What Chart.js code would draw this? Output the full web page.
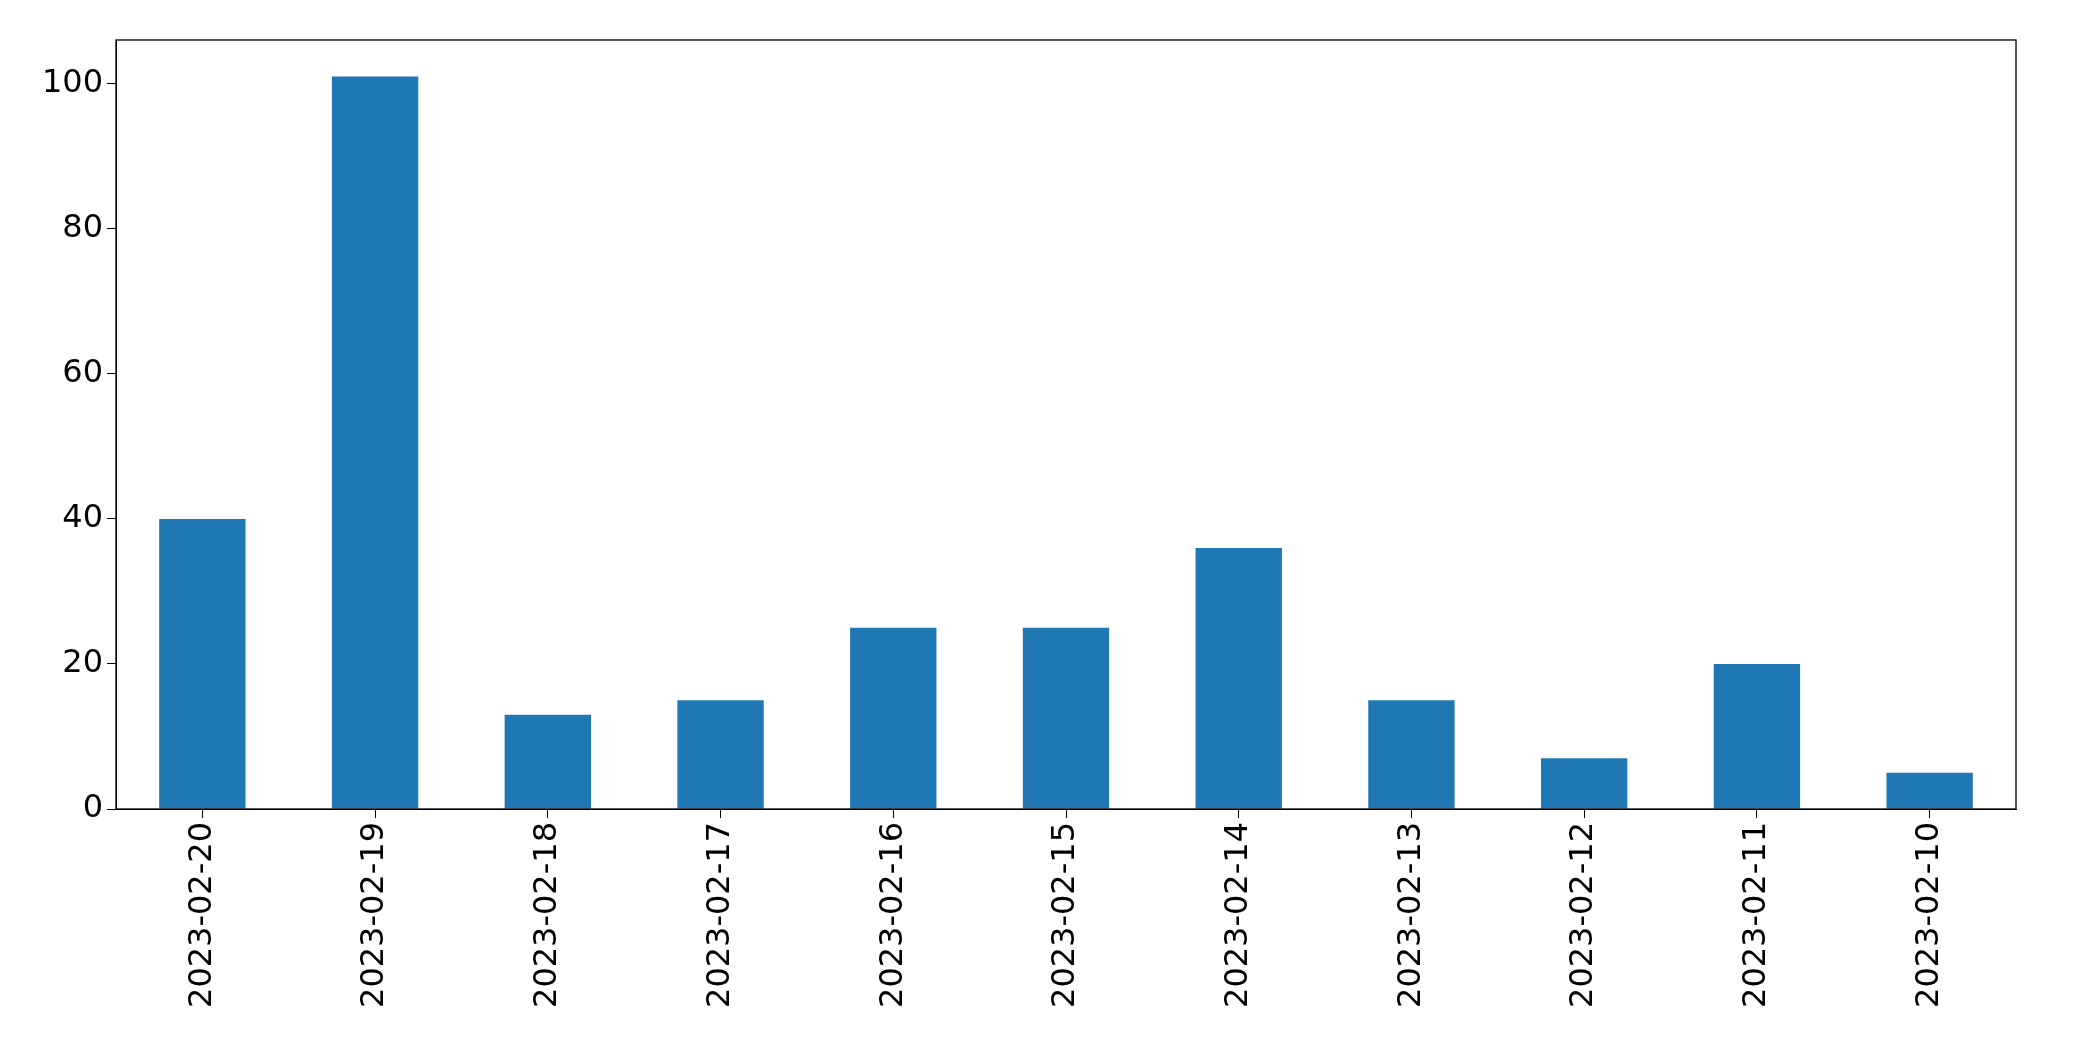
<!DOCTYPE html>
<html><head><meta charset="utf-8">
<script src="https://cdn.jsdelivr.net/npm/chart.js@4"></script>
<style>html,body{margin:0;padding:0;background:#fff}#w{width:2093px;height:1061px}</style>
</head><body><div id="w"><canvas id="c"></canvas></div>
<script>
const categories=["2023-02-20","2023-02-19","2023-02-18","2023-02-17","2023-02-16","2023-02-15","2023-02-14","2023-02-13","2023-02-12","2023-02-11","2023-02-10"];
const values=[40,101,13,15,25,25,36,15,7,20,5];
const yTicks=[0,20,40,60,80,100];
const frame={id:'frame',afterDraw(c){const a=c.chartArea,x=c.ctx;x.save();x.strokeStyle='#000';x.lineWidth=1.3;x.strokeRect(a.left,a.top,a.right-a.left,a.bottom-a.top);x.restore();}};
new Chart(document.getElementById('c'),{type:'bar',
data:{labels:categories,datasets:[{data:values,backgroundColor:'#1f77b4',categoryPercentage:1,barPercentage:0.5}]},
options:{responsive:true,maintainAspectRatio:false,animation:false,
layout:{padding:{top:40,right:77,left:0,bottom:0}},
plugins:{legend:{display:false},tooltip:{enabled:false}},
scales:{
x:{afterFit(s){s.height=252;},grid:{offset:false,drawOnChartArea:false,color:'#000',tickLength:9},border:{color:'#000'},
ticks:{color:'#000',maxRotation:90,minRotation:90,font:{family:'DejaVu Sans',size:32},padding:4}},
y:{min:0,max:106.05,afterFit(s){s.width=116;},afterBuildTicks(s){s.ticks=yTicks.map(v=>({value:v}));},
grid:{drawOnChartArea:false,color:'#000',tickLength:9},border:{color:'#000'},
ticks:{color:'#000',font:{family:'DejaVu Sans',size:32},padding:4}}}},
plugins:[frame]});
</script></body></html>
